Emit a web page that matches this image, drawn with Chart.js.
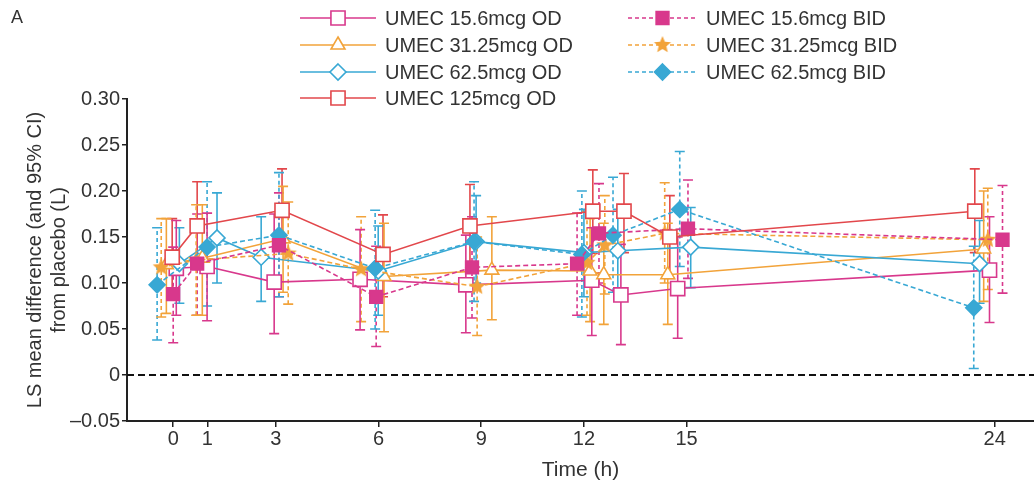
<!DOCTYPE html>
<html>
<head>
<meta charset="utf-8">
<script src="https://cdn.jsdelivr.net/npm/chart.js@4.4.1/dist/chart.umd.min.js"></script>
<style>
  html, body { margin: 0; padding: 0; background: #fff; }
  #wrap { position: relative; width: 1034px; height: 486px; }
  #panel { position: absolute; left: 11px; top: 7px; font: 18px "Liberation Sans", Arial, sans-serif; color: #333; }
</style>
</head>
<body>
<div id="wrap">
  <canvas id="chart" width="1034" height="486"></canvas>
  <div id="panel">A</div>
</div>
<script>
// tick labels on the x axis (hours)
const xTicks = [0, 1, 3, 6, 9, 12, 15, 24];

const seriesNames = ['UMEC 15.6mcg OD', 'UMEC 31.25mcg OD', 'UMEC 62.5mcg OD', 'UMEC 125mcg OD',
                     'UMEC 15.6mcg BID', 'UMEC 31.25mcg BID', 'UMEC 62.5mcg BID'];

// time points are slightly staggered in the figure so the bars don't overlap
const timeOD156  = [0.09, 0.99, 2.95, 5.46, 8.55, 12.23, 13.08, 14.74, 23.85];
const meanOD156  = [0.116, 0.118, 0.101, 0.104, 0.098, 0.103, 0.087, 0.094, 0.114];
const lowOD156   = [0.065, 0.059, 0.045, 0.049, 0.046, 0.043, 0.033, 0.040, 0.057];
const highOD156  = [0.168, 0.176, 0.175, 0.158, 0.152, 0.160, 0.142, 0.150, 0.172];

const timeOD3125 = [-0.2, 0.85, 3.21, 6.16, 9.31, 12.18, 12.58, 14.45, 23.68];
const meanOD3125 = [0.120, 0.127, 0.148, 0.107, 0.114, 0.113, 0.109, 0.109, 0.137];
const lowOD3125  = [0.067, 0.065, 0.090, 0.047, 0.060, 0.058, 0.055, 0.055, 0.080];
const highOD3125 = [0.170, 0.185, 0.205, 0.165, 0.172, 0.170, 0.165, 0.165, 0.200];

const timeOD625  = [0.18, 1.28, 2.57, 5.99, 8.85, 12.0, 12.99, 15.12, 23.56];
const meanOD625  = [0.121, 0.149, 0.128, 0.113, 0.145, 0.133, 0.135, 0.139, 0.121];
const lowOD625   = [0.078, 0.100, 0.080, 0.065, 0.100, 0.085, 0.090, 0.095, 0.078];
const highOD625  = [0.160, 0.198, 0.172, 0.162, 0.195, 0.180, 0.180, 0.182, 0.168];

const timeOD125  = [-0.03, 0.70, 3.18, 6.13, 8.67, 12.26, 13.17, 14.51, 23.42];
const meanOD125  = [0.128, 0.162, 0.179, 0.131, 0.162, 0.178, 0.178, 0.150, 0.178];
const lowOD125   = [0.085, 0.115, 0.135, 0.085, 0.117, 0.132, 0.133, 0.105, 0.133];
const highOD125  = [0.170, 0.210, 0.224, 0.174, 0.207, 0.223, 0.219, 0.195, 0.224];

const timeBID156  = [0.0, 0.70, 3.09, 5.93, 8.73, 11.80, 12.44, 15.04, 24.23];
const meanBID156  = [0.088, 0.121, 0.141, 0.085, 0.117, 0.121, 0.154, 0.159, 0.147];
const lowBID156   = [0.035, 0.065, 0.085, 0.031, 0.062, 0.065, 0.100, 0.105, 0.089];
const highBID156  = [0.139, 0.175, 0.198, 0.140, 0.172, 0.176, 0.208, 0.212, 0.206];

const timeBID3125 = [-0.35, 0.67, 3.36, 5.49, 8.88, 12.09, 12.61, 14.36, 23.80];
const meanBID3125 = [0.117, 0.125, 0.132, 0.115, 0.096, 0.122, 0.141, 0.154, 0.147];
const lowBID3125  = [0.063, 0.065, 0.077, 0.058, 0.043, 0.065, 0.088, 0.100, 0.093];
const highBID3125 = [0.170, 0.185, 0.188, 0.172, 0.150, 0.178, 0.195, 0.209, 0.203];

const timeBID625  = [-0.47, 0.99, 3.09, 5.90, 8.79, 11.94, 12.85, 14.80, 23.39];
const meanBID625  = [0.098, 0.139, 0.152, 0.116, 0.145, 0.131, 0.152, 0.180, 0.073];
const lowBID625   = [0.038, 0.075, 0.085, 0.050, 0.080, 0.063, 0.090, 0.118, 0.007];
const highBID625  = [0.160, 0.210, 0.220, 0.179, 0.210, 0.200, 0.215, 0.243, 0.140];

const MAGENTA = '#d8388c';
const ORANGE = '#f2a33a';
const CYAN = '#38a8d4';
const RED = '#e2474b';
const FONT = '"Liberation Sans", Arial, sans-serif';

// filled star marker for the 31.25 BID series
function makeStar(color, r) {
    const c = document.createElement('canvas');
    c.width = c.height = r * 2 + 2;
    const g = c.getContext('2d');
    g.beginPath();
    for (let i = 0; i < 10; i++) {
        const rad = i % 2 === 0 ? r : r * 0.45;
        const a = -Math.PI / 2 + i * Math.PI / 5;
        const px = r + 1 + rad * Math.cos(a), py = r + 1 + rad * Math.sin(a);
        if (i === 0) g.moveTo(px, py); else g.lineTo(px, py);
    }
    g.closePath();
    g.fillStyle = color;
    g.fill();
    return c;
}
const starImg = makeStar(ORANGE, 9);

function pts(t, m) {
    return t.map((x, i) => ({ x: x, y: m[i] }));
}

function series(idx, t, m, lo, hi, color, style, radius, bid) {
    return {
        label: seriesNames[idx],
        data: pts(t, m),
        lows: lo,
        highs: hi,
        bid: bid,
        borderColor: color,
        backgroundColor: color,
        borderWidth: 1.6,
        borderDash: bid ? [5, 3] : [],
        pointStyle: style,
        pointRadius: radius,
        pointHoverRadius: radius,
        pointBorderColor: color,
        pointBackgroundColor: bid ? color : '#fff',
        pointBorderWidth: 1.6,
        showLine: true,
        tension: 0
    };
}

const datasets = [
    series(3, timeOD125, meanOD125, lowOD125, highOD125, RED, 'rect', 10, false),
    series(4, timeBID156, meanBID156, lowBID156, highBID156, MAGENTA, 'rect', 9, true),
    series(6, timeBID625, meanBID625, lowBID625, highBID625, CYAN, 'rectRot', 8, true),
    series(5, timeBID3125, meanBID3125, lowBID3125, highBID3125, ORANGE, starImg, 9, true),
    series(2, timeOD625, meanOD625, lowOD625, highOD625, CYAN, 'rectRot', 8, false),
    series(1, timeOD3125, meanOD3125, lowOD3125, highOD3125, ORANGE, 'triangle', 8, false),
    series(0, timeOD156, meanOD156, lowOD156, highOD156, MAGENTA, 'rect', 10, false)
];

// error bars, dashed for BID
const errorBars = {
    id: 'errorBars',
    beforeDatasetsDraw(chart) {
        const { ctx, scales: { x, y } } = chart;
        ctx.save();
        chart.data.datasets.forEach(ds => {
            ctx.strokeStyle = ds.borderColor;
            ctx.lineWidth = 1.6;
            ds.data.forEach((p, i) => {
                const px = x.getPixelForValue(p.x);
                const yl = y.getPixelForValue(ds.lows[i]);
                const yh = y.getPixelForValue(ds.highs[i]);
                ctx.setLineDash(ds.bid ? [4, 3] : []);
                ctx.beginPath();
                ctx.moveTo(px, yl); ctx.lineTo(px, yh);
                ctx.stroke();
                ctx.setLineDash([]);
                ctx.beginPath();
                ctx.moveTo(px - 5, yl); ctx.lineTo(px + 5, yl);
                ctx.moveTo(px - 5, yh); ctx.lineTo(px + 5, yh);
                ctx.stroke();
            });
        });
        // dashed zero line
        ctx.setLineDash([7, 4]);
        ctx.strokeStyle = '#111';
        ctx.lineWidth = 2;
        const y0 = y.getPixelForValue(0);
        ctx.beginPath();
        ctx.moveTo(chart.chartArea.left, y0);
        ctx.lineTo(chart.chartArea.right, y0);
        ctx.stroke();
        ctx.restore();
    }
};

function marker(ctx, ds, cx, cy) {
    const r = ds.pointRadius;
    ctx.save();
    ctx.setLineDash([]);
    ctx.lineWidth = 1.6;
    ctx.strokeStyle = ds.borderColor;
    ctx.fillStyle = ds.pointBackgroundColor;
    if (ds.pointStyle instanceof HTMLCanvasElement) {
        ctx.drawImage(ds.pointStyle, cx - ds.pointStyle.width / 2, cy - ds.pointStyle.height / 2);
        ctx.restore();
        return;
    }
    ctx.beginPath();
    if (ds.pointStyle === 'rect') {
        const s = r * Math.SQRT1_2;
        ctx.rect(cx - s, cy - s, 2 * s, 2 * s);
    } else if (ds.pointStyle === 'rectRot') {
        ctx.moveTo(cx, cy - r); ctx.lineTo(cx + r, cy); ctx.lineTo(cx, cy + r); ctx.lineTo(cx - r, cy);
        ctx.closePath();
    } else {
        ctx.moveTo(cx, cy - r); ctx.lineTo(cx + r * 0.87, cy + r * 0.5); ctx.lineTo(cx - r * 0.87, cy + r * 0.5);
        ctx.closePath();
    }
    ctx.fill();
    ctx.stroke();
    ctx.restore();
}

// two-column legend at the top, OD on the left, BID on the right
const legendRows = [18, 45, 72, 98];
const topLegend = {
    id: 'topLegend',
    afterDraw(chart) {
        const { ctx } = chart;
        ctx.save();
        ctx.font = '20px ' + FONT;
        ctx.textBaseline = 'middle';
        chart.data.datasets.forEach(ds => {
            const idx = seriesNames.indexOf(ds.label);
            const col = idx < 4 ? 0 : 1;
            const row = idx < 4 ? idx : idx - 4;
            const x0 = col === 0 ? 300 : 628;
            const x1 = col === 0 ? 376 : 697;
            const yy = legendRows[row];
            ctx.strokeStyle = ds.borderColor;
            ctx.lineWidth = 1.6;
            ctx.setLineDash(ds.bid ? [4, 3] : []);
            ctx.beginPath();
            ctx.moveTo(x0, yy); ctx.lineTo(x1, yy);
            ctx.stroke();
            marker(ctx, ds, (x0 + x1) / 2, yy);
            ctx.fillStyle = '#333';
            ctx.fillText(ds.label, x1 + 9, yy + 1);
        });
        ctx.restore();
    }
};

new Chart(document.getElementById('chart'), {
    type: 'line',
    data: { datasets: datasets },
    options: {
        responsive: false,
        animation: false,
        events: [],
        layout: { autoPadding: false, padding: { top: 99, right: 0, bottom: 0, left: 0 } },
        plugins: { legend: { display: false }, tooltip: { enabled: false } },
        scales: {
            x: {
                type: 'linear',
                min: -1.35,
                max: 25.15,
                afterBuildTicks: s => { s.ticks = xTicks.map(v => ({ value: v })); },
                afterFit: s => { s.height = 65; s.paddingLeft = 0; s.paddingRight = 0; },
                border: { color: '#222', width: 2 },
                grid: { drawOnChartArea: false, drawTicks: true, tickLength: 6, color: '#222', lineWidth: 1.5 },
                ticks: { color: '#333', font: { family: FONT, size: 20 }, padding: 0, maxRotation: 0 },
                title: { display: true, text: 'Time (h)', color: '#333', font: { family: FONT, size: 21 }, padding: { top: 0, bottom: 3 } }
            },
            y: {
                min: -0.05,
                max: 0.30,
                afterBuildTicks: s => {
                    const t = [];
                    for (let v = -0.05; v <= 0.3001; v += 0.05) t.push({ value: Math.round(v * 100) / 100 });
                    s.ticks = t;
                },
                afterFit: s => { s.width = 127; },
                border: { color: '#222', width: 2 },
                grid: { drawOnChartArea: false, drawTicks: true, tickLength: 5, color: '#222', lineWidth: 1.5 },
                ticks: {
                    color: '#333',
                    font: { family: FONT, size: 20 },
                    padding: 2,
                    callback: v => v === 0 ? '0' : (v < 0 ? '\u2013' + Math.abs(v).toFixed(2) : v.toFixed(2))
                },
                title: {
                    display: true,
                    text: ['LS mean difference (and 95% CI)', 'from placebo (L)'],
                    color: '#333',
                    font: { family: FONT, size: 20, lineHeight: 1.2 },
                    padding: { top: 23, bottom: 0 }
                }
            }
        }
    },
    plugins: [errorBars, topLegend]
});
</script>
</body>
</html>
